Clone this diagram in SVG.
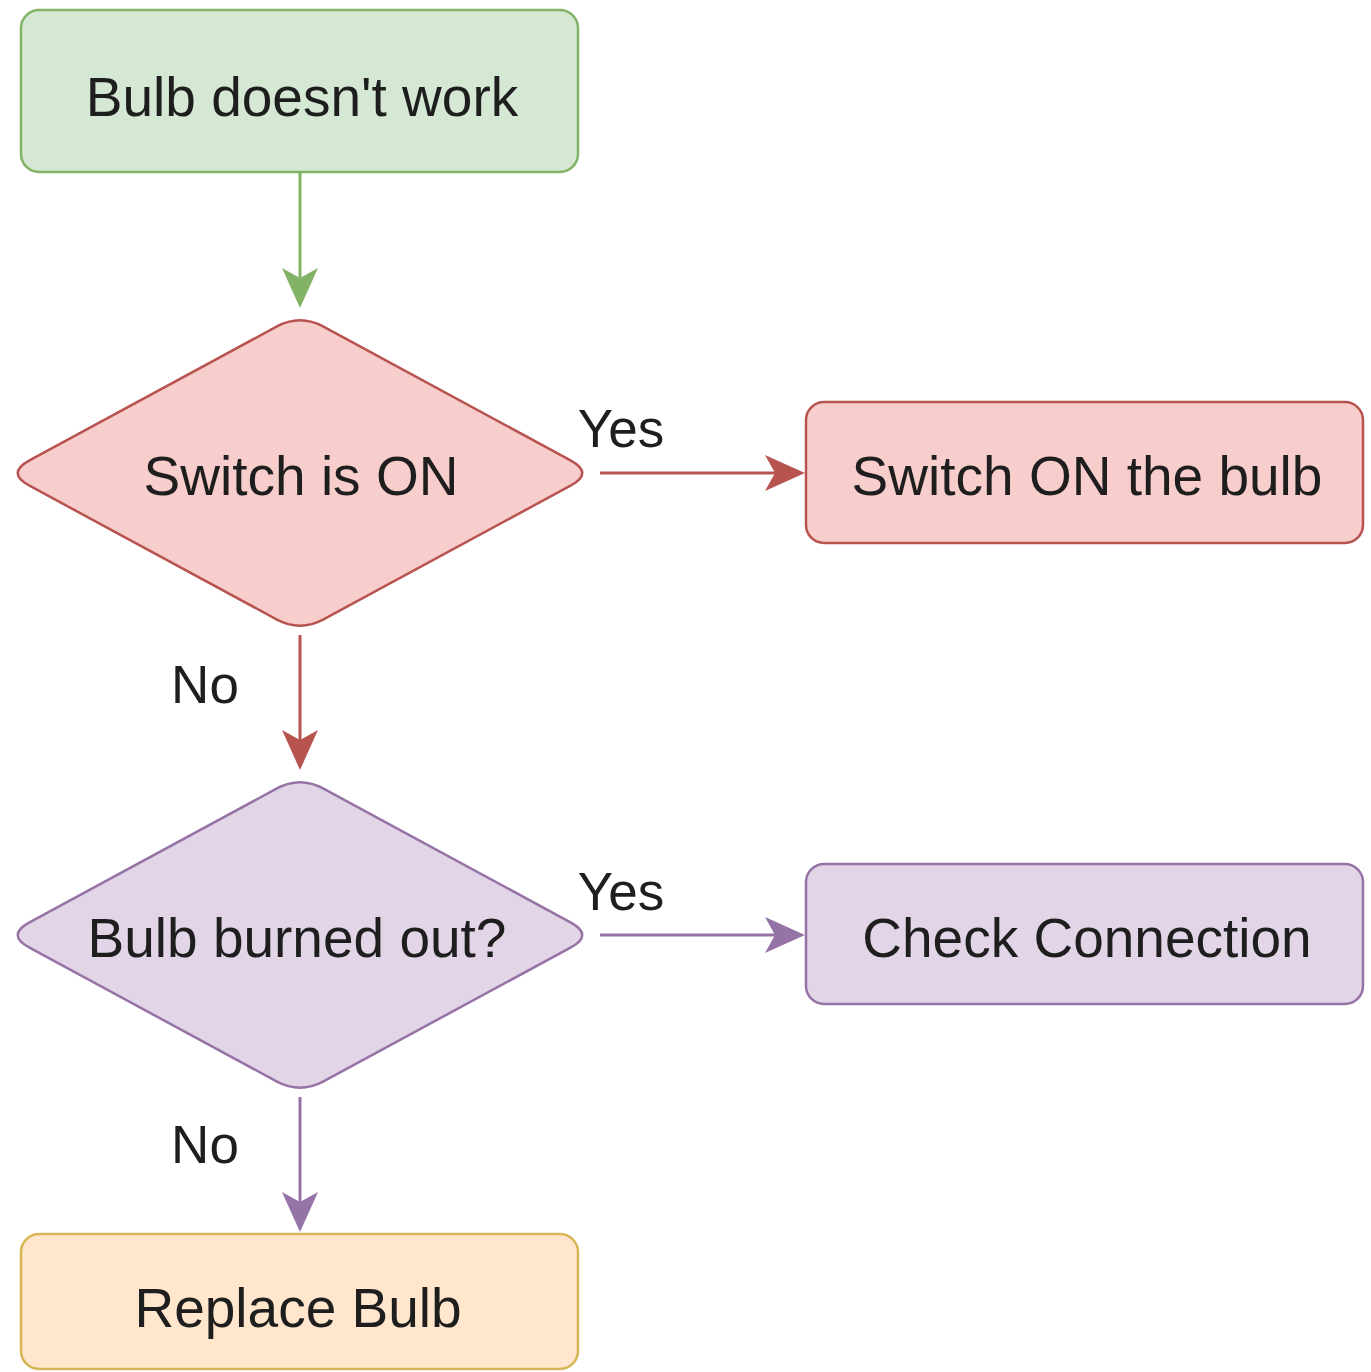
<svg xmlns="http://www.w3.org/2000/svg" width="1371" height="1372" viewBox="0 0 1371 1372">
  <style>
    .lbl { font-family: "Liberation Sans", Arial, sans-serif; font-size: 55px; fill: #1e1e1e; text-anchor: middle; }
    .edge-lbl { font-family: "Liberation Sans", Arial, sans-serif; font-size: 53px; fill: #1e1e1e; text-anchor: middle; }
    .green { fill: #d5e8d4; stroke: #82b366; stroke-width: 2.5; }
    .red { fill: #f8cecc; stroke: #b85450; stroke-width: 2.5; }
    .purple { fill: #e1d5e7; stroke: #9673a6; stroke-width: 2.5; }
    .orange { fill: #ffe6cc; stroke: #d6b656; stroke-width: 2.5; }
    .wire { fill: none; stroke-width: 3; }
  </style>
  <defs>
    <marker id="arrow-green" markerUnits="userSpaceOnUse" markerWidth="40" markerHeight="40" refX="10" refY="20" orient="auto" overflow="visible">
      <path d="M0,2 L40,20 L0,38 L10,20 Z" fill="#82b366"/>
    </marker>
    <marker id="arrow-red" markerUnits="userSpaceOnUse" markerWidth="40" markerHeight="40" refX="10" refY="20" orient="auto" overflow="visible">
      <path d="M0,2 L40,20 L0,38 L10,20 Z" fill="#b85450"/>
    </marker>
    <marker id="arrow-purple" markerUnits="userSpaceOnUse" markerWidth="40" markerHeight="40" refX="10" refY="20" orient="auto" overflow="visible">
      <path d="M0,2 L40,20 L0,38 L10,20 Z" fill="#9673a6"/>
    </marker>
    <path id="rhombus" d="M276.5,326.7 Q300,314 323.5,326.7 L570.5,460.3 Q594,473 570.5,485.7 L323.5,619.3 Q300,632 276.5,619.3 L29.5,485.7 Q6,473 29.5,460.3 Z"/>
  </defs>

  <rect width="1371" height="1372" fill="#ffffff"/>

  <g id="connectors">
    <line class="wire" x1="300" y1="172" x2="300" y2="278" stroke="#82b366" marker-end="url(#arrow-green)"/>
    <line class="wire" x1="600" y1="473" x2="775" y2="473" stroke="#b85450" marker-end="url(#arrow-red)"/>
    <line class="wire" x1="300" y1="635" x2="300" y2="740" stroke="#b85450" marker-end="url(#arrow-red)"/>
    <line class="wire" x1="600" y1="935" x2="775" y2="935" stroke="#9673a6" marker-end="url(#arrow-purple)"/>
    <line class="wire" x1="300" y1="1097" x2="300" y2="1202" stroke="#9673a6" marker-end="url(#arrow-purple)"/>
    <text class="edge-lbl" x="621" y="447">Yes</text>
    <text class="edge-lbl" x="205" y="703">No</text>
    <text class="edge-lbl" x="621" y="910">Yes</text>
    <text class="edge-lbl" x="205" y="1163">No</text>
  </g>

  <g id="start">
    <rect class="green" x="21" y="10" width="557" height="162" rx="18"/>
    <text class="lbl" x="302" y="116">Bulb doesn't work</text>
  </g>

  <g id="switch-on-check">
    <use href="#rhombus" class="red"/>
    <text class="lbl" x="301" y="495">Switch is ON</text>
  </g>

  <g id="switch-on-bulb">
    <rect class="red" x="806" y="402" width="557" height="141" rx="18"/>
    <text class="lbl" x="1087" y="495">Switch ON the bulb</text>
  </g>

  <g id="burned-out-check">
    <use href="#rhombus" class="purple" transform="translate(0,462)"/>
    <text class="lbl" x="297" y="957">Bulb burned out?</text>
  </g>

  <g id="check-connection">
    <rect class="purple" x="806" y="864" width="557" height="140" rx="18"/>
    <text class="lbl" x="1087" y="957">Check Connection</text>
  </g>

  <g id="replace-bulb">
    <rect class="orange" x="21" y="1234" width="557" height="135" rx="18"/>
    <text class="lbl" x="298" y="1327">Replace Bulb</text>
  </g>
</svg>
